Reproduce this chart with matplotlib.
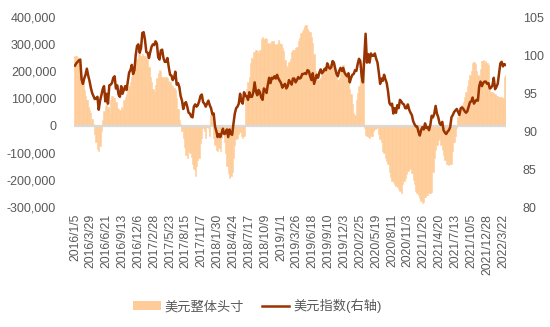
import matplotlib
matplotlib.use("Agg")
import matplotlib.pyplot as plt
import numpy as np
import pandas as pd
from matplotlib.patches import Patch
from matplotlib.lines import Line2D
from matplotlib.ticker import FuncFormatter

plt.rcParams['font.family'] = ['Liberation Sans', 'Noto Sans CJK SC', 'DejaVu Sans']

# weekly dates, first one 2016/1/5
start_date = '2016-01-05'

# USD net position, thousands of contracts (left axis)
net_pos_k = [
    258, 256, 252, 245, 225, 185, 160, 130, 110, 95,
    70, 58, 45, 25, 5, -30, -60, -85, -92, -75,
    -20, 20, 55, 72, 95, 70, 45, 95, 110, 100,
    100, 85, 65, 60, 58, 70, 62, 95, 105, 118,
    135, 145, 160, 180, 195, 205, 232, 245, 262, 268,
    258, 262, 258, 255, 250, 240, 215, 180, 160, 135,
    123, 150, 175, 195, 205, 200, 178, 178, 175, 180,
    175, 165, 160, 150, 145, 140, 130, 100, 60, 20,
    5, -20, -45, -80, -110, -118, -95, -100, -115, -140,
    -160, -185, -150, -125, -120, -65, -45, -10, -20, -45,
    -5, -8, -40, 40, 35, -45, -70, -90, -95, -82,
    -93, -45, -10, -60, -100, -150, -175, -192, -185, -170,
    -120, -70, -50, -45, -30, -22, -40, -45, -40, 104,
    135, 160, 180, 230, 250, 270, 272, 278, 275, 265,
    278, 318, 326, 320, 322, 318, 305, 300, 304, 310,
    310, 300, 298, 302, 315, 305, 300, 285, 275, 240,
    220, 215, 235, 245, 270, 278, 280, 285, 290, 310,
    322, 340, 348, 355, 368, 370, 355, 350, 344, 325,
    305, 265, 200, 175, 167, 170, 174, 190, 195, 205,
    210, 215, 222, 225, 235, 240, 212, 195, 180, 168,
    175, 205, 215, 222, 205, 195, 180, 155, 135, 118,
    80, 45, 40, 95, 120, 145, 180, 205, 230, -10,
    -35, -40, -42, -44, -40, -38, -20, -12, -8, -5,
    -30, -50, -60, -95, -100, -118, -130, -140, -170, -190,
    -205, -208, -215, -222, -228, -235, -242, -248, -215, -205,
    -193, -180, -167, -160, -155, -175, -200, -215, -240, -248,
    -255, -265, -278, -285, -280, -262, -255, -255, -250, -248,
    -245, -170, -120, -90, -70, -55, -45, -70, -90, -110,
    -125, -140, -142, -145, -143, -140, -95, -60, -40, -10,
    30, 40, 60, 75, 85, 105, 125, 145, 168, 185,
    200, 232, 235, 225, 200, 185, 180, 210, 238, 240,
    232, 238, 232, 222, 140, 125, 122, 120, 115, 110,
    108, 105, 104, 104, 103, 180, 185,
]

# US dollar index (right axis)
dxy = [
    98.6, 98.9, 99.1, 99.3, 99.4, 96.8, 96.2, 96.9, 97.4, 98.2,
    97.3, 96.6, 95.7, 95.0, 94.6, 94.2, 94.3, 94.5, 92.8, 94.0,
    94.7, 95.5, 95.9, 93.9, 94.9, 93.6, 96.0, 96.1, 96.3, 97.0,
    97.2, 95.6, 96.0, 94.8, 94.5, 95.9, 94.9, 95.4, 95.9, 95.4,
    96.5, 97.7, 98.0, 98.7, 97.5, 98.0, 100.0, 101.2, 101.4, 100.3,
    100.9, 102.9, 103.0, 102.0, 100.4, 100.3, 99.6, 100.4, 101.1, 101.4,
    101.3, 101.8, 101.5, 99.7, 99.4, 100.6, 100.7, 99.6, 99.1, 99.1,
    99.6, 98.4, 97.4, 97.3, 96.7, 97.0, 97.8, 96.1, 96.3, 95.8,
    94.6, 94.0, 92.9, 93.6, 93.8, 93.2, 92.4, 92.3, 91.9, 91.8,
    93.2, 93.5, 93.2, 93.4, 93.9, 94.6, 94.8, 93.8, 93.6, 93.2,
    93.6, 94.0, 93.4, 93.0, 92.2, 92.3, 90.6, 90.0, 89.2, 89.6,
    89.2, 89.7, 90.3, 89.6, 89.7, 90.2, 89.2, 90.2, 89.6, 89.5,
    91.0, 92.3, 93.0, 93.2, 93.6, 94.9, 93.9, 93.6, 95.1, 94.6,
    94.6, 94.1, 95.1, 94.5, 94.5, 95.1, 96.4, 95.2, 94.7, 95.4,
    95.1, 94.4, 94.1, 95.6, 95.4, 95.0, 96.1, 97.0, 96.3, 97.0,
    96.9, 97.2, 96.9, 97.4, 96.9, 96.6, 96.3, 95.7, 96.0, 96.2,
    95.6, 95.9, 96.7, 96.4, 96.1, 96.9, 96.9, 96.4, 96.7, 97.1,
    96.9, 97.0, 97.5, 97.5, 97.6, 97.5, 98.0, 97.9, 97.2, 96.7,
    97.6, 96.2, 96.8, 97.4, 97.0, 97.7, 98.1, 97.6, 97.8, 98.2,
    98.0, 98.9, 98.4, 98.2, 98.4, 99.2, 99.0, 98.2, 97.5, 97.2,
    97.9, 98.3, 97.9, 98.3, 97.7, 97.4, 97.2, 97.6, 96.4, 97.0,
    97.4, 97.5, 98.0, 97.9, 98.8, 99.5, 99.2, 97.2, 96.4, 99.6,
    102.8, 99.0, 100.1, 99.0, 100.2, 99.9, 99.9, 100.2, 99.5, 99.0,
    97.7, 96.2, 96.9, 96.6, 97.4, 96.8, 96.3, 95.2, 93.7, 93.4,
    93.6, 92.3, 93.0, 92.4, 93.4, 93.0, 94.1, 93.9, 93.6, 93.5,
    93.0, 93.0, 93.5, 92.8, 92.4, 92.1, 91.3, 90.9, 90.6, 90.6,
    89.9, 89.4, 90.1, 90.5, 90.2, 91.0, 90.4, 90.5, 90.1, 90.8,
    92.0, 91.8, 92.3, 93.3, 92.3, 91.8, 91.0, 90.8, 91.2, 90.1,
    89.8, 89.6, 89.9, 90.1, 90.5, 91.8, 92.1, 92.5, 92.7, 92.9,
    92.5, 92.1, 93.0, 93.1, 92.9, 92.6, 92.4, 92.6, 93.2, 93.8,
    93.9, 94.4, 93.6, 93.9, 94.1, 94.0, 95.9, 96.5, 95.9, 96.3,
    96.5, 96.5, 96.2, 96.3, 95.6, 95.7, 96.0, 97.0, 95.5, 95.8,
    96.2, 97.5, 98.9, 99.1, 98.5, 98.8, 98.7,
]

tick_labels = [
    '2016/1/5', '2016/3/29', '2016/6/21', '2016/9/13', '2016/12/6',
    '2017/2/28', '2017/5/23', '2017/8/15', '2017/11/7', '2018/1/30',
    '2018/4/24', '2018/7/17', '2018/10/9', '2019/1/1', '2019/3/26',
    '2019/6/18', '2019/9/10', '2019/12/3', '2020/2/25', '2020/5/19',
    '2020/8/11', '2020/11/3', '2021/1/26', '2021/4/20', '2021/7/13',
    '2021/10/5', '2021/12/28', '2022/3/22',
]

n = len(dxy)
dates = pd.date_range(start_date, periods=n, freq='7D')
x = np.arange(n)
net_pos = np.array(net_pos_k[:n]) * 1000

bar_color = '#FFCC99'
line_color = '#993300'
text_color = '#595959'

fig = plt.figure(figsize=(5.5, 3.27), dpi=100)
ax = fig.add_axes([74.3 / 550, 1 - 207 / 327, 432 / 550, 190 / 327])

ax.bar(x, net_pos, width=1.0, color=bar_color, edgecolor=bar_color, linewidth=0.4)
ax.axhline(0, color='#D9D9D9', lw=1.6, zorder=3)
ax.set_xlim(-0.5, n - 0.5)
ax.set_ylim(-300000, 400000)
ax.set_yticks(np.arange(-300000, 400001, 100000))
ax.yaxis.set_major_formatter(FuncFormatter(lambda v, p: '{:,.0f}'.format(v)))
ax.set_xticks(x[::12])
ax.set_xticklabels(tick_labels, rotation=90)
ax.tick_params(axis='x', length=0, pad=5, labelsize=8.7, colors=text_color)
ax.tick_params(axis='y', length=0, pad=13, labelsize=9, colors=text_color)
for s in ax.spines.values():
    s.set_visible(False)

ax2 = ax.twinx()
ax2.plot(x, dxy, color=line_color, lw=1.8)
ax2.set_ylim(80, 105)
ax2.set_yticks(np.arange(80, 106, 5))
ax2.tick_params(axis='y', length=0, pad=12, labelsize=9, colors=text_color)
for s in ax2.spines.values():
    s.set_visible(False)

handles = [Patch(facecolor=bar_color, edgecolor='none'),
           Line2D([0], [0], color=line_color, lw=1.8)]
leg = fig.legend(handles, ['美元整体头寸', '美元指数(右轴)'], loc='center',
                 bbox_to_anchor=(0.468, 0.064), ncol=2, frameon=False,
                 fontsize=9.5, handlelength=2.1, handletextpad=0.3,
                 columnspacing=1.3)
for t in leg.get_texts():
    t.set_color(text_color)

fig.savefig('out.png', dpi=100)
